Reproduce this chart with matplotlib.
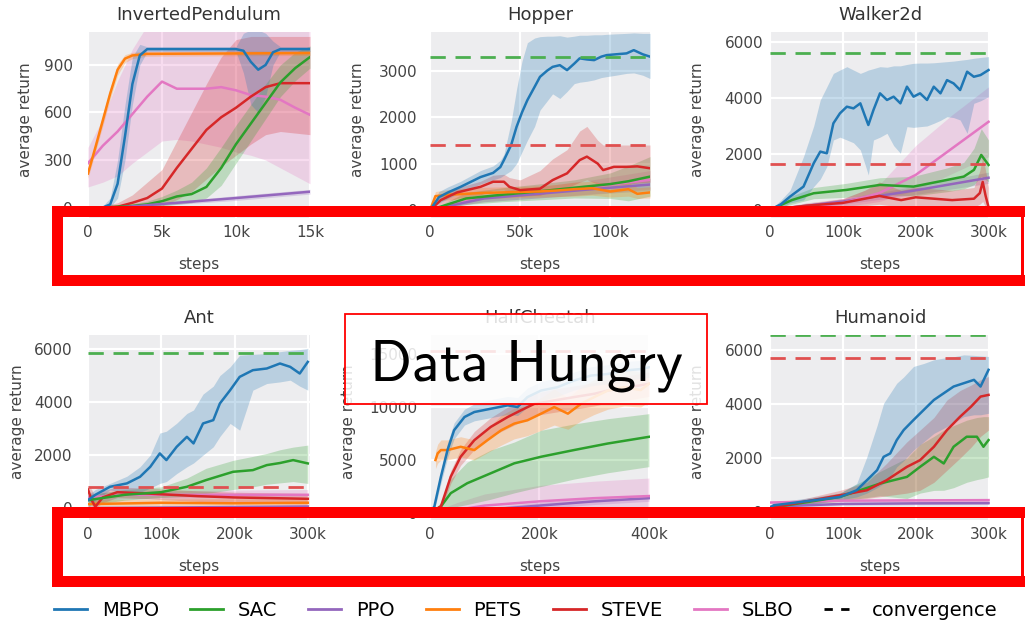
import matplotlib
matplotlib.use("Agg")
import matplotlib.pyplot as plt
from matplotlib.lines import Line2D
from matplotlib.patches import Rectangle

plt.rcParams["font.family"] = ["DejaVu Sans"]
plt.rcParams["mathtext.fontset"] = "cm"

# colours of the methods (tab10)
colors = {
    "MBPO": "#1f77b4",
    "SAC": "#2ca02c",
    "PPO": "#9467bd",
    "PETS": "#ff7f0e",
    "STEVE": "#d62728",
    "SLBO": "#e377c2",
}
methods = ["MBPO", "SAC", "PPO", "PETS", "STEVE", "SLBO"]

# each entry: (steps in k, mean, lower band, upper band)
inverted = {
    "SLBO": ([0, 1, 2, 3, 4, 5, 6, 7, 8, 9, 10, 11, 12, 13, 14, 15],
             [280, 390, 480, 590, 700, 795, 750, 750, 750, 760, 740, 710, 700, 680, 630, 585],
             [130, 160, 200, 280, 350, 420, 430, 420, 400, 380, 350, 330, 300, 250, 200, 150],
             [380, 560, 800, 1000, 1150, 1150, 1150, 1150, 1150, 1150, 1150, 1150, 1150, 1150, 1150, 1150]),
    "STEVE": ([0, 1, 2, 3, 4, 5, 6, 7, 8, 9, 10, 11, 12, 13, 14, 15],
              [0, 0, 5, 30, 60, 120, 250, 370, 490, 570, 630, 700, 760, 785, 785, 785],
              [0, 0, 0, 0, 0, 10, 50, 100, 180, 260, 330, 400, 460, 480, 470, 460],
              [0, 10, 30, 80, 160, 240, 420, 600, 780, 950, 1060, 1080, 1080, 1080, 1080, 1080]),
    "SAC": ([0, 1, 2, 3, 4, 5, 6, 7, 8, 9, 10, 11, 12, 13, 14, 15],
            [0, 0, 5, 10, 20, 40, 70, 85, 130, 250, 400, 530, 660, 790, 880, 950],
            [0, 0, 0, 0, 0, 10, 20, 30, 60, 140, 280, 420, 560, 700, 800, 880],
            [0, 5, 15, 25, 40, 70, 110, 160, 250, 380, 520, 650, 780, 900, 980, 1020]),
    "PPO": ([0, 2, 6, 10, 15], [0, 0, 30, 60, 100], [0, 0, 20, 45, 85], [0, 5, 40, 75, 115]),
    "PETS": ([0, 0.5, 1, 1.5, 2, 2.5, 3, 4, 15],
             [215, 380, 550, 720, 870, 940, 960, 970, 975],
             [185, 350, 515, 685, 835, 915, 940, 955, 960],
             [245, 410, 585, 755, 905, 965, 980, 985, 990]),
    "MBPO": ([0, 1, 1.5, 2, 2.5, 3, 3.5, 4, 10, 10.5, 11, 11.5, 12, 12.5, 13, 15],
             [0, 0, 20, 150, 450, 780, 960, 1000, 1000, 990, 920, 870, 900, 980, 1000, 1000],
             [0, 0, 0, 60, 300, 650, 900, 985, 985, 850, 650, 600, 700, 900, 985, 985],
             [0, 10, 60, 300, 650, 950, 1030, 1015, 1015, 1100, 1120, 1120, 1100, 1050, 1015, 1015]),
}

hopper = {
    "SLBO": ([0, 30, 60, 90, 122], [0, 280, 380, 500, 650], [0, 180, 260, 350, 450], [0, 380, 500, 650, 850]),
    "PPO": ([0, 30, 60, 90, 122], [0, 250, 350, 450, 550], [0, 180, 260, 340, 420], [0, 320, 440, 560, 680]),
    "SAC": ([0, 20, 40, 60, 80, 100, 110, 122],
            [0, 250, 330, 400, 480, 560, 620, 720],
            [0, 120, 180, 220, 260, 250, 200, 300],
            [0, 380, 480, 560, 650, 800, 950, 1150]),
    "PETS": ([0, 3, 10, 20, 30, 40, 50, 60, 70, 80, 90, 100, 110, 115, 122],
             [0, 300, 330, 350, 370, 380, 390, 400, 420, 450, 470, 400, 450, 350, 380],
             [0, 200, 220, 230, 250, 260, 270, 280, 290, 300, 320, 280, 300, 250, 260],
             [0, 400, 440, 470, 490, 500, 510, 520, 550, 600, 620, 550, 600, 480, 500]),
    "STEVE": ([0, 6, 15, 28, 35, 41, 44, 50, 61, 68, 76, 83, 87, 93, 96, 102, 109, 115, 122],
              [0, 215, 380, 500, 610, 610, 500, 430, 460, 645, 790, 1075, 1150, 1000, 860, 930, 930, 940, 900],
              [0, 120, 250, 330, 420, 430, 350, 300, 320, 400, 480, 600, 650, 560, 520, 550, 560, 580, 600],
              [0, 300, 480, 620, 750, 770, 700, 650, 850, 1100, 1300, 1700, 1800, 1500, 1400, 1400, 1400, 1400, 1400]),
    "MBPO": ([0, 5, 10, 17, 28, 35, 39, 41, 45, 48, 51, 54, 58, 61, 65, 68, 72, 76, 80, 83, 87, 91, 95, 98, 103, 109, 113, 118, 122],
             [0, 280, 380, 500, 710, 800, 925, 1075, 1400, 1790, 2100, 2365, 2650, 2866, 3000, 3080, 3117, 3010, 3150, 3263, 3240, 3225, 3300, 3333, 3350, 3370, 3440, 3350, 3300],
             [0, 150, 250, 380, 560, 650, 700, 750, 850, 1000, 1250, 1500, 1800, 2150, 2350, 2500, 2400, 2550, 2720, 2750, 2770, 2800, 2850, 2870, 2900, 2940, 2950, 2900, 2830],
             [0, 400, 500, 620, 850, 950, 1070, 1200, 1900, 2600, 3200, 3600, 3700, 3730, 3740, 3740, 3750, 3720, 3740, 3760, 3760, 3770, 3770, 3780, 3790, 3800, 3810, 3800, 3800]),
}

walker = {
    "PPO": ([0, 100, 200, 300], [0, 300, 700, 1150], [0, 200, 550, 950], [0, 400, 850, 1350]),
    "SLBO": ([0, 50, 100, 150, 200, 250, 300],
             [0, 100, 250, 600, 1250, 2200, 3150],
             [0, 20, 100, 300, 700, 1300, 1900],
             [0, 200, 400, 900, 2300, 3400, 4400]),
    "SAC": ([0, 30, 60, 105, 151, 197, 243, 266, 280, 290, 300],
            [0, 350, 595, 714, 893, 833, 1071, 1190, 1430, 1964, 1607],
            [0, 200, 400, 450, 550, 500, 650, 750, 900, 1200, 1000],
            [0, 500, 800, 950, 1150, 1200, 1500, 1700, 2200, 2900, 2500]),
    "STEVE": ([0, 50, 100, 130, 150, 180, 200, 250, 280, 288, 292, 296, 300],
              [0, 150, 250, 400, 500, 350, 450, 350, 400, 600, 1000, 500, 100],
              [0, 50, 100, 150, 200, 100, 150, 100, 100, 200, 300, 100, 0],
              [0, 250, 400, 700, 1000, 700, 800, 700, 800, 1400, 1900, 1400, 800]),
    "MBPO": ([0, 15, 27.5, 46, 60, 69, 78, 87, 96, 105.5, 114.6, 124, 130.7, 135, 142, 151, 160.6, 169.7, 179, 188,
              197, 206, 215.6, 224.8, 234, 243, 252, 261, 270.6, 279.8, 289, 300],
             [0, 200, 475, 833, 1667, 2083, 2024, 3095, 3452, 3690, 3630, 3810, 3333, 3035, 3570, 4167, 3930, 4048,
              3810, 4405, 4048, 4167, 3930, 4405, 4167, 4640, 4523, 4286, 4940, 4760, 4820, 5000],
             [0, 50, 250, 357, 833, 1100, 1548, 2500, 2600, 2500, 2400, 2143, 1600, 1250, 2500, 2600, 2738, 2300,
              2024, 2976, 2950, 2976, 3000, 3095, 3200, 3333, 3300, 3214, 2738, 3810, 3900, 4048],
             [0, 350, 700, 1905, 3000, 3930, 4400, 4880, 5000, 5120, 5000, 4880, 4950, 5000, 5050, 5120, 5100, 5150,
              5150, 5200, 5240, 5250, 5250, 5260, 5280, 5300, 5320, 5350, 5380, 5420, 5450, 5480]),
}

ant = {
    "PPO": ([0, 100, 200, 300], [0, 20, 40, 60], [0, 0, 10, 20], [20, 50, 80, 100]),
    "PETS": ([0, 100, 200, 300], [150, 200, 180, 200], [0, 50, 50, 50], [300, 350, 350, 350]),
    "SLBO": ([0, 50, 100, 200, 300], [400, 500, 500, 500, 500], [250, 350, 380, 400, 420], [550, 650, 650, 680, 700]),
    "STEVE": ([0, 5, 10, 20, 40, 80, 150, 200, 300],
              [700, 300, 50, 400, 600, 550, 450, 400, 350],
              [500, 100, 0, 200, 400, 350, 250, 200, 150],
              [850, 700, 400, 650, 800, 750, 650, 600, 550]),
    "SAC": ([0, 50, 100, 135, 161, 198, 225, 244, 262, 280, 300],
            [300, 500, 600, 803, 1055, 1369, 1432, 1621, 1700, 1810, 1685],
            [100, 300, 400, 450, 550, 700, 800, 900, 950, 1000, 930],
            [500, 700, 800, 1130, 1500, 1800, 1950, 2060, 2200, 2300, 2375]),
    "MBPO": ([0, 10, 30, 53, 71, 85, 98, 107, 121, 135, 144, 157, 171, 180, 194, 207, 225, 244, 262, 276, 289, 300],
             [300, 500, 803, 930, 1180, 1557, 2062, 1810, 2311, 2688, 2439, 3193, 3318, 3947, 4449, 4950, 5203, 5266,
              5455, 5328, 5077, 5516],
             [0, 300, 680, 600, 600, 750, 930, 1000, 1300, 1557, 1700, 2000, 2311, 2700, 3193, 2940, 4449, 4700,
              4760, 4826, 4600, 4449],
             [500, 700, 930, 1200, 1557, 2000, 2830, 2900, 3200, 3570, 3700, 4300, 4600, 5000, 5328, 5770, 5800, 5830,
              5900, 5950, 5980, 6020]),
}

cheetah = {
    "PPO": ([0, 100, 200, 300, 400], [0, 300, 700, 1100, 1400], [0, 100, 400, 800, 1100], [0, 500, 1000, 1400, 1700]),
    "SLBO": ([0, 50, 100, 200, 300, 400], [0, 300, 700, 1100, 1400, 1600], [0, 0, 100, 200, 300, 400],
             [0, 1000, 1800, 2600, 3000, 3300]),
    "SAC": ([0, 20, 38, 68, 111, 154, 203, 263, 325, 400],
            [0, 625, 1875, 2810, 3750, 4690, 5310, 5940, 6560, 7190],
            [0, 200, 500, 800, 1300, 1900, 2500, 3200, 3800, 4375],
            [0, 1000, 3200, 4800, 5940, 6700, 7810, 8400, 8900, 9375]),
    "STEVE": ([0, 20, 38, 56, 81, 111, 142, 166, 191, 227, 263, 300, 325, 355, 400],
              [0, 625, 3440, 5310, 6875, 8125, 9060, 9690, 10310, 10625, 10940, 11250, 11560, 11800, 12190],
              [0, 300, 2800, 4500, 6000, 7200, 8000, 8600, 9200, 9500, 9800, 10100, 10400, 10600, 11000],
              [0, 900, 4000, 6000, 7700, 9000, 10000, 10700, 11300, 11700, 12000, 12300, 12600, 12900, 13300]),
    "PETS": ([10, 14, 20, 32, 56, 81, 105, 130, 154, 178, 203, 227, 252, 276, 300, 325, 355, 385, 400],
             [5000, 5625, 5940, 5940, 6250, 5940, 6875, 7810, 8440, 8750, 9375, 10000, 9375, 10310, 10940, 11560,
              11875, 11600, 12190],
             [4200, 4700, 5000, 5000, 5300, 5000, 5700, 6400, 7000, 7300, 7800, 8300, 7900, 8700, 9300, 9800,
              10100, 10000, 10500],
             [5800, 6500, 6900, 6900, 7200, 6900, 8000, 9200, 9900, 10200, 10900, 11700, 10900, 11900, 12600, 13300,
              13600, 13300, 13900]),
    "MBPO": ([0, 8, 20, 32, 44, 63, 81, 111, 142, 160, 178, 203, 233, 263, 294, 325, 355, 385, 400],
             [0, 625, 3440, 5940, 7810, 9060, 9530, 9840, 10160, 10000, 10940, 11560, 11875, 12500, 12970, 13125,
              13440, 13590, 13750],
             [0, 300, 2800, 5200, 7000, 8300, 8700, 9000, 9300, 9200, 10000, 10600, 11000, 11600, 12000, 12200,
              12500, 12700, 12800],
             [0, 900, 4000, 6600, 8500, 9800, 10300, 10700, 11000, 10900, 11800, 12400, 12800, 13300, 13800, 14000,
              14300, 14400, 14500]),
}

humanoid = {
    "PPO": ([0, 100, 200, 300], [200, 300, 320, 330], [150, 250, 270, 280], [250, 350, 370, 380]),
    "SLBO": ([0, 100, 200, 300], [350, 420, 430, 440], [300, 370, 380, 390], [400, 470, 480, 490]),
    "SAC": ([0, 96, 151, 188, 206, 225, 238.5, 252, 270, 284, 293, 300],
            [150, 558, 1053, 1301, 1673, 2044, 1797, 2416, 2788, 2788, 2416, 2664],
            [100, 400, 600, 500, 700, 800, 805, 900, 1100, 1200, 1250, 1301],
            [200, 700, 1500, 2000, 2500, 2800, 3035, 3200, 3400, 3500, 3531, 3531]),
    "STEVE": ([0, 96, 133, 160, 188, 206, 225, 243, 261, 276, 289, 300],
              [150, 620, 805, 1177, 1673, 1920, 2416, 3035, 3531, 3903, 4274, 4337],
              [100, 450, 500, 600, 700, 805, 1100, 1549, 2000, 2400, 2800, 3035],
              [200, 800, 1100, 1800, 2600, 3035, 3500, 4150, 4500, 4700, 4900, 5018]),
    "MBPO": ([0, 5, 60, 96, 119, 133, 147, 156, 165, 174, 183.5, 197, 211, 225, 238.5, 252, 266, 280, 289, 300],
             [150, 248, 434, 558, 805, 1177, 1549, 2044, 2168, 2664, 3035, 3407, 3779, 4150, 4398, 4646, 4770, 4894,
              4646, 5266],
             [100, 150, 300, 450, 558, 700, 900, 1053, 1300, 1673, 1900, 2292, 2600, 2912, 3100, 3300, 3531, 3600,
              3600, 3655],
             [200, 350, 550, 700, 1053, 2044, 3200, 4027, 4400, 4770, 5000, 5390, 5500, 5638, 5700, 5750, 5820, 5800,
              5780, 5760]),
}

titles = ["InvertedPendulum", "Hopper", "Walker2d", "Ant", "HalfCheetah", "Humanoid"]
env_data = [inverted, hopper, walker, ant, cheetah, humanoid]
# convergence levels (green and red dashed)
conv_green = [None, 3300, 5600, 5850, None, 6540]
conv_red = [None, 1400, 1630, 800, 15300, 5700]
xlims = [(0, 15), (0, 122), (0, 302), (0, 303), (0, 402), (0, 302)]
ylims = [(-66, 1108), (-170, 3830), (-290, 6360), (-450, 6530), (-660, 16800), (-296, 6555)]
xticks = [[0, 5, 10, 15], [0, 50, 100], [0, 100, 200, 300], [0, 100, 200, 300], [0, 200, 400], [0, 100, 200, 300]]
yticks = [[0, 300, 600, 900], [0, 1000, 2000, 3000], [0, 2000, 4000, 6000], [0, 2000, 4000, 6000],
          [0, 5000, 10000, 15000], [0, 2000, 4000, 6000]]

W, H = 1025, 621
fig = plt.figure(figsize=(W / 100, H / 100), dpi=100)

col_px = [(88, 310), (430, 650), (770, 990)]
row_px = [(32, 218), (335, 520)]
ylabel_x = [-0.248, -0.295, -0.295, -0.284, -0.336, -0.295]
ypads = [11, 9, 5, 11, 9, 5]

for i in range(6):
    r, c = divmod(i, 3)
    x0, x1 = col_px[c]
    y0, y1 = row_px[r]
    ax = fig.add_axes([x0 / W, 1 - y1 / H, (x1 - x0) / W, (y1 - y0) / H])
    ax.set_facecolor("#ededef")
    for s in ax.spines.values():
        s.set_visible(False)
    ax.grid(True, color="white", lw=1.6)
    ax.set_axisbelow(True)

    data = env_data[i]
    for m in data:
        xs, mean, lo, hi = data[m]
        ax.fill_between(xs, lo, hi, color=colors[m], alpha=0.25, lw=0)
        ax.plot(xs, mean, color=colors[m], lw=1.8)
    if conv_green[i] is not None:
        ax.axhline(conv_green[i], color="#4caf50", lw=2, dashes=(5.5, 3.5))
    if conv_red[i] is not None:
        ax.axhline(conv_red[i], color="#e05050", lw=2, dashes=(5.5, 3.5))

    ax.set_xlim(*xlims[i])
    ax.set_ylim(*ylims[i])
    ax.set_xticks(xticks[i])
    ax.set_xticklabels(["0" if v == 0 else f"{v}k" for v in xticks[i]])
    ax.set_yticks(yticks[i])
    ax.tick_params(length=0, labelsize=11, colors="#444444")
    ax.tick_params(axis="y", pad=ypads[i])
    ax.tick_params(axis="x", pad=5)
    ax.set_title(titles[i], fontsize=13, color="#333333", pad=9)
    ax.set_ylabel("average return", fontsize=11, color="#444444")
    ax.yaxis.set_label_coords(ylabel_x[i], 0.53)
    ax.set_xlabel("steps", fontsize=11, color="#444444")
    ax.xaxis.set_label_coords(0.5, -0.21)

# legend along the bottom
handles = [Line2D([], [], color=colors[m], lw=2) for m in methods]
handles.append(Line2D([], [], color="black", lw=2, dashes=(3, 3)))
labels = methods + ["convergence"]
fig.legend(handles, labels, loc="center", bbox_to_anchor=(0.513, 1 - 610 / H), ncol=7, frameon=False,
           fontsize=14, handlelength=1.7, handletextpad=0.75, columnspacing=1.6)

# overlay: red highlight boxes and the "Data Hungry" label (pixel coordinates)
ov = fig.add_axes([0, 0, 1, 1], zorder=10)
ov.set_xlim(0, W)
ov.set_ylim(H, 0)
ov.axis("off")
ov.patch.set_alpha(0)
red = "#ff0000"
for top, bot in [(206, 286), (507, 587)]:
    ov.add_patch(Rectangle((52, top), W - 52, 11, fc=red, ec="none"))
    ov.add_patch(Rectangle((52, bot - 11), W - 52, 11, fc=red, ec="none"))
    ov.add_patch(Rectangle((52, top), 11, bot - top, fc=red, ec="none"))
    ov.add_patch(Rectangle((1021, top), 2.5, bot - top, fc=red, ec="none"))

ov.add_patch(Rectangle((345, 314), 362, 90, fc=(1, 1, 1, 0.85), ec=red, lw=1.3))
ov.text(526, 365, r"$\mathsf{Data\ Hungry}$", fontsize=42, ha="center", va="center", color="black")

fig.savefig("out.png", dpi=100)
